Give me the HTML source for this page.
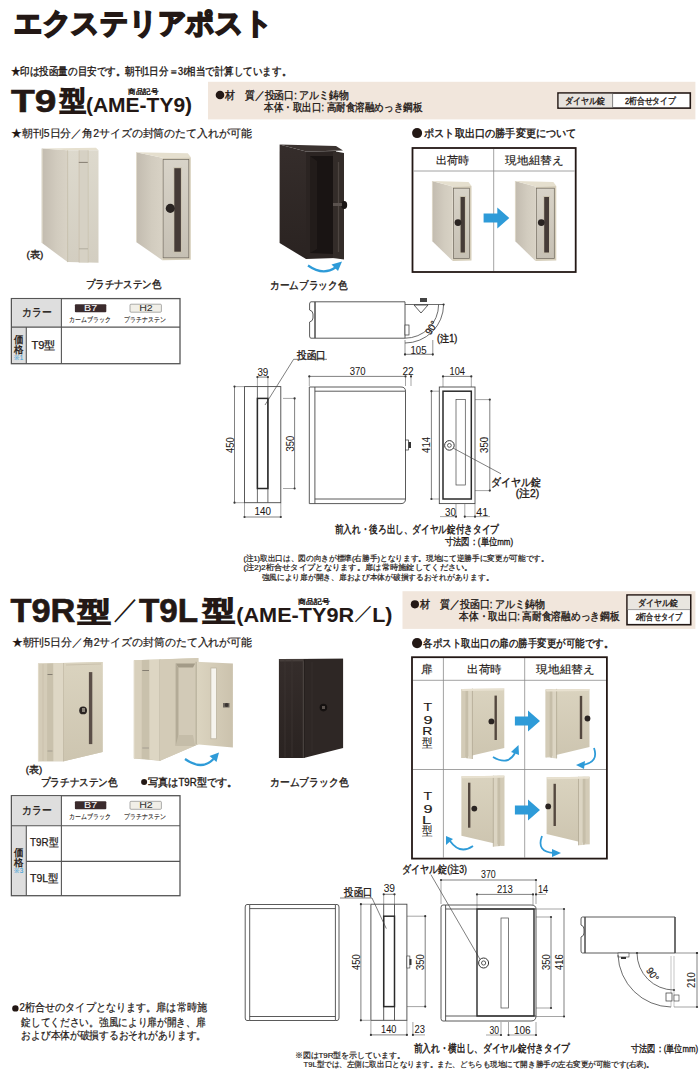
<!DOCTYPE html>
<html><head><meta charset="utf-8"><title>エクステリアポスト</title>
<style>
html,body{margin:0;padding:0;background:#ffffff;}
body{width:700px;height:1076px;overflow:hidden;position:relative;font-family:"Liberation Sans",sans-serif;}
svg{position:absolute;left:0;top:0;}
svg text{font-family:"Liberation Sans",sans-serif;}
</style></head><body>
<svg width="700" height="1076" viewBox="0 0 700 1076" fill="#231815">
<defs>
<linearGradient id="gside" x1="0" y1="0" x2="0" y2="1"><stop offset="0" stop-color="#d5cdb9"/><stop offset="0.5" stop-color="#cdc5b0"/><stop offset="1" stop-color="#c1b8a2"/></linearGradient>
<linearGradient id="gfront" x1="0" y1="0" x2="0" y2="1"><stop offset="0" stop-color="#dad3bf"/><stop offset="1" stop-color="#cdc5b0"/></linearGradient>
<linearGradient id="gdoor" x1="0" y1="0" x2="0" y2="1"><stop offset="0" stop-color="#d8d3c8"/><stop offset="1" stop-color="#c6c0b4"/></linearGradient>
<linearGradient id="gfront2" x1="0" y1="0" x2="1" y2="0"><stop offset="0" stop-color="#dcd5c1"/><stop offset="1" stop-color="#cbc2ad"/></linearGradient>
<linearGradient id="ginside" x1="0" y1="0" x2="1" y2="1"><stop offset="0" stop-color="#b8af99"/><stop offset="1" stop-color="#d0c8b3"/></linearGradient>
<linearGradient id="gblk" x1="0" y1="0" x2="0" y2="1"><stop offset="0" stop-color="#352d2b"/><stop offset="1" stop-color="#2a2321"/></linearGradient>
<linearGradient id="gsideH" x1="0" y1="0" x2="1" y2="0"><stop offset="0" stop-color="#c2bbaf"/><stop offset="0.6" stop-color="#d2ccbf"/><stop offset="1" stop-color="#d8d2c5"/></linearGradient>
<linearGradient id="gfrontN" x1="0" y1="0" x2="0" y2="1"><stop offset="0" stop-color="#ddd9cd"/><stop offset="1" stop-color="#d3cec1"/></linearGradient>
</defs>
<polygon points="41.7,148.5 67.6,150.3 67.6,262.1 41.7,242.8" fill="url(#gsideH)"/>
<polygon points="41.7,148.5 96.0,147.8 98.5,150.3 67.6,150.3" fill="#e6e0cf"/>
<polygon points="67.6,150.3 98.5,150.3 98.5,262.7 67.6,262.1" fill="url(#gfrontN)"/>
<rect x="79.1" y="150.3" width="9.1" height="112.2" fill="#d6d1c4" />
<line x1="67.6" y1="150.3" x2="67.6" y2="262.1" stroke="#bdb49f" stroke-width="0.7"/>
<line x1="42.2" y1="149.0" x2="42.2" y2="243.0" stroke="#e8e2d2" stroke-width="0.8"/>
<line x1="79.1" y1="150.3" x2="79.1" y2="262.5" stroke="#c2b9a4" stroke-width="0.6"/>
<line x1="88.2" y1="150.3" x2="88.2" y2="262.5" stroke="#c6bda8" stroke-width="0.6"/>
<line x1="78.8" y1="162.4" x2="87.8" y2="162.4" stroke="#857e72" stroke-width="1.0"/>
<line x1="79.0" y1="248.8" x2="88.0" y2="248.8" stroke="#aaa396" stroke-width="0.8"/>
<polygon points="136.1,152.2 162.3,157.7 162.3,260.2 136.1,242.0" fill="url(#gsideH)"/>
<line x1="136.5" y1="152.2" x2="136.5" y2="242.0" stroke="#e6e0d0" stroke-width="0.8"/>
<polygon points="136.1,152.2 187.8,153.2 190.8,157.2 162.3,157.7" fill="#e5dfce"/>
<polygon points="162.3,157.7 190.8,157.2 190.8,259.7 162.3,260.2" fill="#d6ceba"/>
<rect x="163.1" y="159.4" width="25.7" height="98.4" fill="url(#gdoor)" stroke="#6f695f" stroke-width="0.7" />
<rect x="173.5" y="167.2" width="8.2" height="85.5" fill="#c9c1ad" />
<rect x="174.3" y="168.2" width="6.6" height="83.5" fill="#453b37" />
<circle cx="170.3" cy="208.4" r="4.5600000000000005" fill="#2a2422"/>
<polygon points="279.6,144.4 306.0,151.5 306.0,259.0 279.6,243.0" fill="url(#gblk)"/>
<polygon points="279.6,144.4 336.0,146.0 343.0,150.5 306.0,151.5" fill="#3b3330"/>
<polygon points="306.0,151.5 336.0,151.0 336.0,258.0 306.0,259.0" fill="#2b2422"/>
<polygon points="310.0,156.0 333.0,156.0 333.0,254.0 310.0,253.0" fill="#191413"/>
<polygon points="310.0,156.0 317.0,161.0 317.0,249.0 310.0,253.0" fill="#221c1a"/>
<polygon points="333.0,151.0 344.0,153.0 344.0,259.5 333.0,258.0" fill="#332c29"/>
<line x1="338.5" y1="162.0" x2="338.5" y2="252.0" stroke="#4d4541" stroke-width="1.3"/>
<ellipse cx="344.2" cy="205" rx="3" ry="4" fill="#1a1514"/>
<rect x="333.0" y="203.0" width="9.0" height="3.0" fill="#5a524e" />
<path d="M308,265.5 Q323,276 335.5,267.5" fill="none" stroke="#2e9bd8" stroke-width="2.2" />
<polygon points="331.5,264.5 342.0,261.5 338.0,271.0" fill="#2e9bd8"/>
<rect x="412.5" y="148.0" width="163.2" height="124.0" fill="#ffffff" stroke="#231815" stroke-width="1.8" />
<line x1="413.5" y1="171.0" x2="574.7" y2="171.0" stroke="#8a8a8a" stroke-width="0.8"/>
<line x1="493.7" y1="149.0" x2="493.7" y2="271.0" stroke="#8a8a8a" stroke-width="0.8"/>
<polygon points="432.0,181.0 452.7,186.5 452.7,261.0 432.0,241.0" fill="url(#gsideH)"/>
<line x1="432.4" y1="181.0" x2="432.4" y2="241.0" stroke="#e6e0d0" stroke-width="0.8"/>
<polygon points="432.0,181.0 468.5,182.0 471.5,186.0 452.7,186.5" fill="#e5dfce"/>
<polygon points="452.7,186.5 471.5,186.0 471.5,260.5 452.7,261.0" fill="#d6ceba"/>
<rect x="453.5" y="188.2" width="16.0" height="70.4" fill="url(#gdoor)" stroke="#6f695f" stroke-width="0.7" />
<rect x="459.8" y="196.0" width="5.9" height="57.5" fill="#c9c1ad" />
<rect x="460.6" y="197.0" width="4.3" height="55.5" fill="#453b37" />
<circle cx="458.0" cy="222.6" r="3.4" fill="#2a2422"/>
<polygon points="515.0,181.0 535.5,186.5 535.5,261.0 515.0,241.0" fill="url(#gsideH)"/>
<line x1="515.4" y1="181.0" x2="515.4" y2="241.0" stroke="#e6e0d0" stroke-width="0.8"/>
<polygon points="515.0,181.0 553.3,182.0 556.3,186.0 535.5,186.5" fill="#e5dfce"/>
<polygon points="535.5,186.5 556.3,186.0 556.3,260.5 535.5,261.0" fill="#d6ceba"/>
<rect x="536.3" y="188.2" width="18.0" height="70.4" fill="url(#gdoor)" stroke="#6f695f" stroke-width="0.7" />
<rect x="543.4" y="196.0" width="6.4" height="57.5" fill="#c9c1ad" />
<rect x="544.2" y="197.0" width="4.8" height="55.5" fill="#453b37" />
<circle cx="541.3" cy="222.6" r="3.4" fill="#2a2422"/>
<polygon points="483.6,213.5 497.3,213.5 497.3,207.5 509.3,218.0 497.3,228.5 497.3,222.5 483.6,222.5" fill="#2e9bd8"/>
<text x="13.75" y="33.30" font-size="29" textLength="259.05" lengthAdjust="spacingAndGlyphs" stroke="#231815" stroke-width="3.0">エクステリアポスト</text>
<text x="10.70" y="75.40" font-size="10.5" textLength="280.44" lengthAdjust="spacingAndGlyphs" stroke="#231815" stroke-width="0.35">★印は投函量の目安です。朝刊1日分＝3ℓ相当で計算しています。</text>
<text x="11.00" y="112.00" font-size="32" textLength="45.42" lengthAdjust="spacingAndGlyphs" stroke="#231815" stroke-width="0.6" font-weight="bold">T9</text>
<text x="59.96" y="110.00" font-size="27" textLength="26.04" lengthAdjust="spacingAndGlyphs" stroke="#231815" stroke-width="2.2">型</text>
<text x="85.95" y="112.00" font-size="20" textLength="106.16" lengthAdjust="spacingAndGlyphs" stroke="#231815" stroke-width="0.05" font-weight="bold">(AME-TY9)</text>
<text x="128.00" y="94.00" font-size="7" textLength="30.00" lengthAdjust="spacingAndGlyphs" stroke="#231815" stroke-width="0.35">商品記号</text>
<rect x="208.0" y="81.8" width="487.4" height="37.6" fill="#f1e6dc" />
<circle cx="220.0" cy="95.0" r="4.3" fill="#231815"/>
<text x="225.00" y="98.50" font-size="10.5" textLength="123.86" lengthAdjust="spacingAndGlyphs" stroke="#231815" stroke-width="0.35">材　質／投函口: アルミ鋳物</text>
<text x="264.30" y="111.40" font-size="10.5" textLength="157.86" lengthAdjust="spacingAndGlyphs" stroke="#231815" stroke-width="0.35">本体・取出口: 高耐食溶融めっき鋼板</text>
<rect x="558.0" y="93.0" width="132.3" height="15.1" fill="#ffffff" stroke="#231815" stroke-width="1.6" />
<rect x="558.8" y="93.8" width="53.7" height="13.5" fill="#e7e3de" />
<line x1="612.6" y1="93.5" x2="612.6" y2="107.6" stroke="#666" stroke-width="0.8"/>
<text x="564.91" y="103.70" font-size="8.5" textLength="39.99" lengthAdjust="spacingAndGlyphs" stroke="#231815" stroke-width="0.35">ダイヤル錠</text>
<text x="624.90" y="103.70" font-size="8.5" textLength="50.90" lengthAdjust="spacingAndGlyphs" stroke="#231815" stroke-width="0.35">2桁合せタイプ</text>
<text x="11.01" y="137.00" font-size="10.5" textLength="240.68" lengthAdjust="spacingAndGlyphs" stroke="#231815" stroke-width="0.2">★朝刊5日分／角2サイズの封筒のたて入れが可能</text>
<circle cx="417.1" cy="133.1" r="5" fill="#231815"/>
<text x="424.00" y="137.20" font-size="10.5" textLength="152.63" lengthAdjust="spacingAndGlyphs" stroke="#231815" stroke-width="0.4">ポスト取出口の勝手変更について</text>
<text x="26.40" y="257.90" font-size="9.5" textLength="16.94" lengthAdjust="spacingAndGlyphs" stroke="#231815" stroke-width="0.35">(表)</text>
<text x="85.60" y="288.00" font-size="10.5" textLength="75.80" lengthAdjust="spacingAndGlyphs" stroke="#231815" stroke-width="0.35">プラチナステン色</text>
<text x="270.12" y="289.30" font-size="10.5" textLength="77.08" lengthAdjust="spacingAndGlyphs" stroke="#231815" stroke-width="0.35">カームブラック色</text>
<text x="436.00" y="163.50" font-size="11" textLength="33.40" lengthAdjust="spacingAndGlyphs" stroke="#231815" stroke-width="0.15">出荷時</text>
<text x="505.40" y="163.50" font-size="11" textLength="58.16" lengthAdjust="spacingAndGlyphs" stroke="#231815" stroke-width="0.15">現地組替え</text>
<rect x="11.4" y="298.6" width="168.6" height="65.1" fill="#ffffff" stroke="#555" stroke-width="1.3" />
<rect x="12.1" y="299.3" width="49.3" height="27.8" fill="#dedede" />
<rect x="12.1" y="327.1" width="14.2" height="35.9" fill="#dedede" />
<line x1="11.4" y1="327.1" x2="180.0" y2="327.1" stroke="#555" stroke-width="1.1"/>
<line x1="61.4" y1="298.6" x2="61.4" y2="363.7" stroke="#555" stroke-width="1.1"/>
<line x1="26.3" y1="327.1" x2="26.3" y2="363.7" stroke="#555" stroke-width="1.1"/>
<text x="22.01" y="316.35" font-size="11" textLength="29.39" lengthAdjust="spacingAndGlyphs" stroke="#231815" stroke-width="0.3">カラー</text>
<rect x="74.9" y="304.2" width="31.4" height="8.0" fill="#3b2b2d" rx="1" />
<text x="84.10" y="311.20" font-size="9" textLength="13.02" lengthAdjust="spacingAndGlyphs" fill="#ffffff" stroke="#ffffff" stroke-width="0.05">B7</text>
<rect x="130.0" y="304.2" width="31.4" height="8.0" fill="#f1efe8" stroke="#777" stroke-width="0.6" rx="1" />
<text x="139.20" y="311.20" font-size="9" textLength="13.61" lengthAdjust="spacingAndGlyphs" fill="#333333" stroke="#333333" stroke-width="0.05">H2</text>
<text x="69.15" y="321.90" font-size="6.5" textLength="41.70" lengthAdjust="spacingAndGlyphs" stroke="#231815" stroke-width="0.1">カームブラック</text>
<text x="124.30" y="321.90" font-size="6.5" textLength="41.40" lengthAdjust="spacingAndGlyphs" stroke="#231815" stroke-width="0.1">プラチナステン</text>
<text x="31.40" y="349.20" font-size="11" textLength="24.14" lengthAdjust="spacingAndGlyphs" stroke="#231815" stroke-width="0.25">T9型</text>
<text x="14.05" y="343.00" font-size="10" textLength="9.50" lengthAdjust="spacingAndGlyphs" stroke="#231815" stroke-width="0.35">価</text>
<text x="14.05" y="352.80" font-size="10" textLength="9.50" lengthAdjust="spacingAndGlyphs" stroke="#231815" stroke-width="0.35">格</text>
<text x="14.30" y="360.00" font-size="7" textLength="8.92" lengthAdjust="spacingAndGlyphs" fill="#3aa0d8" stroke="#3aa0d8" stroke-width="0.1">※1</text>
<path d="M315,301.8 H405 V338.2 H315 Z" fill="none" stroke="#474747" stroke-width="0.9" />
<path d="M315,301.8 H311 Q309.6,302 309.6,304 V310 Q313,311 313,314 V318 Q313,321 309.6,322 V336 Q309.6,338.2 311,338.2 H315" fill="none" stroke="#474747" stroke-width="0.9" />
<line x1="315.0" y1="302.0" x2="315.0" y2="338.0" stroke="#474747" stroke-width="1.0"/>
<line x1="405.0" y1="304.5" x2="443.6" y2="304.5" stroke="#474747" stroke-width="0.8"/>
<rect x="420.0" y="298.0" width="7.0" height="4.0" fill="#444" />
<polygon points="414.0,305.0 428.0,305.0 421.0,313.0" fill="#ffffff" stroke="#333" stroke-width="0.8"/>
<rect x="405.0" y="325.0" width="4.0" height="10.0" fill="#fff" stroke="#333" stroke-width="0.7" />
<path d="M405,338.2 A33.6,33.6 0 0 0 438.6,304.6" fill="none" stroke="#474747" stroke-width="0.8" />
<path d="M405,343 A38.6,38.6 0 0 0 443.6,304.5" fill="none" stroke="#474747" stroke-width="0.8" />
<circle cx="443.6" cy="304.5" r="1.1" fill="#333"/>
<text x="423.70" y="331.50" font-size="10" textLength="14.12" lengthAdjust="spacingAndGlyphs" stroke="#231815" stroke-width="0.2" transform="rotate(-58 430.7 327.5)">90°</text>
<text x="437.10" y="342.10" font-size="10" textLength="20.21" lengthAdjust="spacingAndGlyphs" stroke="#231815" stroke-width="0.35">(注1)</text>
<line x1="405.0" y1="340.0" x2="405.0" y2="356.0" stroke="#4a4a4a" stroke-width="0.6"/>
<line x1="432.8" y1="340.0" x2="432.8" y2="356.0" stroke="#4a4a4a" stroke-width="0.6"/>
<line x1="405.0" y1="354.3" x2="432.8" y2="354.3" stroke="#4a4a4a" stroke-width="0.7"/>
<circle cx="405.0" cy="354.3" r="1.1" fill="#333"/>
<circle cx="432.8" cy="354.3" r="1.1" fill="#333"/>
<text x="410.44" y="354.00" font-size="10" textLength="16.06" lengthAdjust="spacingAndGlyphs" stroke="#231815" stroke-width="0.05">105</text>
<text x="297.00" y="358.50" font-size="10.5" textLength="28.88" lengthAdjust="spacingAndGlyphs" stroke="#231815" stroke-width="0.35">投函口</text>
<line x1="293.6" y1="359.3" x2="327.0" y2="359.3" stroke="#474747" stroke-width="0.7"/>
<line x1="293.6" y1="359.3" x2="265.0" y2="405.0" stroke="#474747" stroke-width="0.7"/>
<rect x="244.5" y="386.6" width="36.3" height="116.1" fill="none" stroke="#474747" stroke-width="0.9" />
<line x1="257.4" y1="386.6" x2="257.4" y2="502.7" stroke="#474747" stroke-width="0.8"/>
<line x1="267.9" y1="386.6" x2="267.9" y2="502.7" stroke="#474747" stroke-width="0.8"/>
<rect x="257.4" y="398.4" width="10.5" height="90.1" fill="none" stroke="#2a2a2a" stroke-width="1.5" />
<line x1="234.5" y1="386.6" x2="234.5" y2="502.7" stroke="#4a4a4a" stroke-width="0.7"/>
<circle cx="234.5" cy="386.6" r="1.1" fill="#333"/>
<circle cx="234.5" cy="502.7" r="1.1" fill="#333"/>
<line x1="234.5" y1="386.6" x2="244.0" y2="386.6" stroke="#4a4a4a" stroke-width="0.5"/>
<line x1="234.5" y1="502.7" x2="244.0" y2="502.7" stroke="#4a4a4a" stroke-width="0.5"/>
<text x="221.70" y="449.00" font-size="10" textLength="15.71" lengthAdjust="spacingAndGlyphs" stroke="#231815" stroke-width="0.05" transform="rotate(-90 229.7 445.0)">450</text>
<line x1="294.6" y1="398.4" x2="294.6" y2="488.5" stroke="#4a4a4a" stroke-width="0.7"/>
<circle cx="294.6" cy="398.4" r="1.1" fill="#333"/>
<circle cx="294.6" cy="488.5" r="1.1" fill="#333"/>
<line x1="283.0" y1="398.4" x2="294.6" y2="398.4" stroke="#4a4a4a" stroke-width="0.5"/>
<line x1="283.0" y1="488.5" x2="294.6" y2="488.5" stroke="#4a4a4a" stroke-width="0.5"/>
<text x="281.60" y="447.50" font-size="10" textLength="15.71" lengthAdjust="spacingAndGlyphs" stroke="#231815" stroke-width="0.05" transform="rotate(-90 289.6 443.5)">350</text>
<line x1="257.4" y1="377.1" x2="267.9" y2="377.1" stroke="#4a4a4a" stroke-width="0.7"/>
<circle cx="257.4" cy="377.1" r="1.1" fill="#333"/>
<circle cx="267.9" cy="377.1" r="1.1" fill="#333"/>
<line x1="257.4" y1="377.0" x2="257.4" y2="386.0" stroke="#4a4a4a" stroke-width="0.5"/>
<line x1="267.9" y1="377.0" x2="267.9" y2="386.0" stroke="#4a4a4a" stroke-width="0.5"/>
<text x="257.40" y="375.50" font-size="10" textLength="10.92" lengthAdjust="spacingAndGlyphs" stroke="#231815" stroke-width="0.05">39</text>
<line x1="244.5" y1="517.0" x2="280.8" y2="517.0" stroke="#4a4a4a" stroke-width="0.7"/>
<circle cx="244.5" cy="517.0" r="1.1" fill="#333"/>
<circle cx="280.8" cy="517.0" r="1.1" fill="#333"/>
<line x1="244.5" y1="503.0" x2="244.5" y2="517.0" stroke="#4a4a4a" stroke-width="0.5"/>
<line x1="280.8" y1="503.0" x2="280.8" y2="517.0" stroke="#4a4a4a" stroke-width="0.5"/>
<text x="254.51" y="515.40" font-size="10" textLength="16.48" lengthAdjust="spacingAndGlyphs" stroke="#231815" stroke-width="0.05">140</text>
<path d="M309.3,387 H401 Q405.5,387 405.5,391.2 V499 Q405.5,503.6 401,503.6 H309.3 Z" fill="none" stroke="#474747" stroke-width="0.9" />
<line x1="314.9" y1="387.0" x2="314.9" y2="503.6" stroke="#474747" stroke-width="0.9"/>
<line x1="314.9" y1="391.2" x2="405.5" y2="391.2" stroke="#474747" stroke-width="0.9"/>
<line x1="314.9" y1="499.0" x2="405.5" y2="499.0" stroke="#474747" stroke-width="0.9"/>
<rect x="405.5" y="440.0" width="3.0" height="10.0" fill="#fff" stroke="#333" stroke-width="0.7" />
<rect x="408.5" y="442.0" width="2.5" height="6.0" fill="#333" />
<line x1="309.3" y1="376.4" x2="405.5" y2="376.4" stroke="#4a4a4a" stroke-width="0.7"/>
<circle cx="309.3" cy="376.4" r="1.1" fill="#333"/>
<circle cx="405.5" cy="376.4" r="1.1" fill="#333"/>
<line x1="309.3" y1="376.4" x2="309.3" y2="386.0" stroke="#4a4a4a" stroke-width="0.5"/>
<line x1="405.5" y1="376.4" x2="405.5" y2="386.0" stroke="#4a4a4a" stroke-width="0.5"/>
<line x1="411.0" y1="376.4" x2="411.0" y2="386.0" stroke="#4a4a4a" stroke-width="0.5"/>
<circle cx="411.0" cy="376.4" r="1.1" fill="#333"/>
<text x="349.80" y="375.30" font-size="10" textLength="15.80" lengthAdjust="spacingAndGlyphs" stroke="#231815" stroke-width="0.05">370</text>
<text x="402.50" y="375.30" font-size="10" textLength="11.23" lengthAdjust="spacingAndGlyphs" stroke="#231815" stroke-width="0.05">22</text>
<rect x="439.3" y="387.0" width="35.7" height="116.6" fill="none" stroke="#474747" stroke-width="0.9" />
<rect x="443.0" y="391.2" width="28.3" height="107.8" fill="none" stroke="#2a2a2a" stroke-width="1.5" />
<rect x="456.0" y="399.6" width="9.3" height="85.4" fill="none" stroke="#474747" stroke-width="0.7" />
<circle cx="449.4" cy="445.4" r="4.8" fill="#fff" stroke="#333" stroke-width="1.0"/>
<circle cx="449.4" cy="445.4" r="1.9" fill="none" stroke="#333" stroke-width="0.8"/>
<line x1="443.0" y1="376.4" x2="471.3" y2="376.4" stroke="#4a4a4a" stroke-width="0.7"/>
<circle cx="443.0" cy="376.4" r="1.1" fill="#333"/>
<circle cx="471.3" cy="376.4" r="1.1" fill="#333"/>
<line x1="443.0" y1="376.4" x2="443.0" y2="387.0" stroke="#4a4a4a" stroke-width="0.5"/>
<line x1="471.3" y1="376.4" x2="471.3" y2="387.0" stroke="#4a4a4a" stroke-width="0.5"/>
<text x="449.57" y="375.30" font-size="10" textLength="15.44" lengthAdjust="spacingAndGlyphs" stroke="#231815" stroke-width="0.05">104</text>
<line x1="431.4" y1="391.2" x2="431.4" y2="499.0" stroke="#4a4a4a" stroke-width="0.7"/>
<circle cx="431.4" cy="391.2" r="1.1" fill="#333"/>
<circle cx="431.4" cy="499.0" r="1.1" fill="#333"/>
<line x1="431.4" y1="391.2" x2="439.0" y2="391.2" stroke="#4a4a4a" stroke-width="0.5"/>
<line x1="431.4" y1="499.0" x2="439.0" y2="499.0" stroke="#4a4a4a" stroke-width="0.5"/>
<text x="417.85" y="448.80" font-size="10" textLength="16.00" lengthAdjust="spacingAndGlyphs" stroke="#231815" stroke-width="0.05" transform="rotate(-90 426.0 444.8)">414</text>
<line x1="489.8" y1="399.6" x2="489.8" y2="490.6" stroke="#4a4a4a" stroke-width="0.7"/>
<circle cx="489.8" cy="399.6" r="1.1" fill="#333"/>
<circle cx="489.8" cy="490.6" r="1.1" fill="#333"/>
<line x1="475.0" y1="399.6" x2="489.8" y2="399.6" stroke="#4a4a4a" stroke-width="0.5"/>
<line x1="475.0" y1="490.6" x2="489.8" y2="490.6" stroke="#4a4a4a" stroke-width="0.5"/>
<text x="476.35" y="448.80" font-size="10" textLength="16.00" lengthAdjust="spacingAndGlyphs" stroke="#231815" stroke-width="0.05" transform="rotate(-90 484.5 444.8)">350</text>
<line x1="453.0" y1="448.0" x2="501.0" y2="473.8" stroke="#474747" stroke-width="0.7"/>
<text x="491.29" y="486.40" font-size="10.5" textLength="50.11" lengthAdjust="spacingAndGlyphs" stroke="#231815" stroke-width="0.35">ダイヤル錠</text>
<text x="515.70" y="497.10" font-size="10.5" textLength="23.45" lengthAdjust="spacingAndGlyphs" stroke="#231815" stroke-width="0.35">(注2)</text>
<line x1="456.0" y1="504.0" x2="456.0" y2="518.0" stroke="#4a4a4a" stroke-width="0.5"/>
<line x1="464.8" y1="504.0" x2="464.8" y2="518.0" stroke="#4a4a4a" stroke-width="0.5"/>
<line x1="475.0" y1="504.0" x2="475.0" y2="518.0" stroke="#4a4a4a" stroke-width="0.5"/>
<circle cx="456.0" cy="516.6" r="1.1" fill="#333"/>
<circle cx="464.8" cy="516.6" r="1.1" fill="#333"/>
<circle cx="475.0" cy="516.6" r="1.1" fill="#333"/>
<line x1="440.0" y1="516.6" x2="456.0" y2="516.6" stroke="#4a4a4a" stroke-width="0.5"/>
<line x1="464.8" y1="516.6" x2="490.0" y2="516.6" stroke="#4a4a4a" stroke-width="0.5"/>
<text x="445.00" y="516.00" font-size="10" textLength="10.82" lengthAdjust="spacingAndGlyphs" stroke="#231815" stroke-width="0.05">30</text>
<text x="476.30" y="516.00" font-size="10" textLength="11.73" lengthAdjust="spacingAndGlyphs" stroke="#231815" stroke-width="0.05">41</text>
<text x="334.70" y="533.30" font-size="10.5" textLength="164.21" lengthAdjust="spacingAndGlyphs" stroke="#231815" stroke-width="0.4">前入れ・後ろ出し、ダイヤル錠付きタイプ</text>
<text x="444.50" y="545.40" font-size="9.5" textLength="68.53" lengthAdjust="spacingAndGlyphs" stroke="#231815" stroke-width="0.35">寸法図：(単位mm)</text>
<text x="243.40" y="561.40" font-size="7.6" textLength="305.22" lengthAdjust="spacingAndGlyphs" stroke="#231815" stroke-width="0.2">(注1)取出口は、図の向きが標準(右勝手)となります。現地にて逆勝手に変更が可能です。</text>
<text x="243.40" y="569.90" font-size="7.6" textLength="229.27" lengthAdjust="spacingAndGlyphs" stroke="#231815" stroke-width="0.2">(注2)2桁合せタイプとなります。扉は常時施錠してください。</text>
<text x="261.60" y="580.10" font-size="7.6" textLength="231.63" lengthAdjust="spacingAndGlyphs" stroke="#231815" stroke-width="0.2">強風により扉が開き、扉および本体が破損するおそれがあります。</text>
<text x="10.40" y="622.40" font-size="32.5" textLength="65.03" lengthAdjust="spacingAndGlyphs" stroke="#231815" stroke-width="0.6" font-weight="bold">T9R</text>
<text x="78.21" y="620.50" font-size="27" textLength="32.79" lengthAdjust="spacingAndGlyphs" stroke="#231815" stroke-width="2.2">型</text>
<text x="112.71" y="618.00" font-size="27" textLength="26.63" lengthAdjust="spacingAndGlyphs">／</text>
<text x="138.90" y="622.40" font-size="32.5" textLength="59.18" lengthAdjust="spacingAndGlyphs" stroke="#231815" stroke-width="0.6" font-weight="bold">T9L</text>
<text x="202.89" y="620.10" font-size="27" textLength="32.01" lengthAdjust="spacingAndGlyphs" stroke="#231815" stroke-width="2.2">型</text>
<text x="236.22" y="621.80" font-size="20" textLength="117.96" lengthAdjust="spacingAndGlyphs" stroke="#231815" stroke-width="0.05" font-weight="bold">(AME-TY9R</text>
<text x="353.95" y="618.50" font-size="19" textLength="20.01" lengthAdjust="spacingAndGlyphs">／</text>
<text x="372.23" y="621.80" font-size="20" textLength="20.22" lengthAdjust="spacingAndGlyphs" stroke="#231815" stroke-width="0.05" font-weight="bold">L)</text>
<text x="298.00" y="603.50" font-size="7" textLength="31.60" lengthAdjust="spacingAndGlyphs" stroke="#231815" stroke-width="0.35">商品記号</text>
<rect x="402.5" y="591.2" width="292.9" height="37.7" fill="#f1e6dc" />
<circle cx="414.9" cy="604.3" r="4.1" fill="#231815"/>
<text x="419.70" y="608.10" font-size="10.5" textLength="125.46" lengthAdjust="spacingAndGlyphs" stroke="#231815" stroke-width="0.35">材　質／投函口: アルミ鋳物</text>
<text x="459.20" y="620.40" font-size="10.5" textLength="160.06" lengthAdjust="spacingAndGlyphs" stroke="#231815" stroke-width="0.35">本体・取出口: 高耐食溶融めっき鋼板</text>
<rect x="627.0" y="595.0" width="63.7" height="29.7" fill="#ffffff" stroke="#231815" stroke-width="1.6" />
<rect x="627.8" y="595.8" width="62.1" height="13.8" fill="#e9e6e0" />
<line x1="627.5" y1="609.6" x2="690.2" y2="609.6" stroke="#888" stroke-width="0.8"/>
<text x="638.41" y="605.90" font-size="8.5" textLength="39.89" lengthAdjust="spacingAndGlyphs" stroke="#231815" stroke-width="0.35">ダイヤル錠</text>
<text x="635.70" y="619.70" font-size="8.5" textLength="46.20" lengthAdjust="spacingAndGlyphs" stroke="#231815" stroke-width="0.35">2桁合せタイプ</text>
<text x="11.61" y="646.00" font-size="10.5" textLength="240.48" lengthAdjust="spacingAndGlyphs" stroke="#231815" stroke-width="0.2">★朝刊5日分／角2サイズの封筒のたて入れが可能</text>
<circle cx="417.1" cy="643.1" r="5.1" fill="#231815"/>
<text x="423.40" y="646.90" font-size="10.5" textLength="189.84" lengthAdjust="spacingAndGlyphs" stroke="#231815" stroke-width="0.4">各ポスト取出口の扉の勝手変更が可能です。</text>
<polygon points="38.0,663.6 102.6,661.9 102.6,752.1 63.7,761.3 38.0,761.3" fill="url(#gfront)"/>
<polygon points="38.0,663.6 47.1,663.4 47.1,761.3 38.0,761.3" fill="#d4ccb8"/>
<line x1="38.4" y1="663.6" x2="38.4" y2="761.0" stroke="#e6e0cf" stroke-width="0.8"/>
<line x1="43.0" y1="664.0" x2="43.0" y2="761.0" stroke="#c4bba6" stroke-width="0.6"/>
<polygon points="47.1,663.4 53.4,663.3 53.4,761.3 47.1,761.3" fill="#c9c1ac"/>
<line x1="47.5" y1="674.5" x2="52.5" y2="674.5" stroke="#7d766b" stroke-width="0.9"/>
<line x1="47.5" y1="751.0" x2="52.5" y2="751.0" stroke="#9d968a" stroke-width="0.8"/>
<polygon points="53.4,663.3 63.7,663.0 63.7,761.3 53.4,761.3" fill="#ded7c5"/>
<line x1="63.7" y1="663.0" x2="63.7" y2="761.3" stroke="#b3aa95" stroke-width="0.8"/>
<polygon points="63.7,663.0 102.6,661.9 102.6,752.1 63.7,761.3" fill="url(#gfront)"/>
<line x1="66.0" y1="665.0" x2="101.0" y2="664.0" stroke="#bfb6a1" stroke-width="0.6"/>
<rect x="88.9" y="672.1" width="3.4" height="72.0" fill="#5b4f48" />
<circle cx="83.1" cy="710.4" r="3.9" fill="#2a2422"/>
<rect x="82.0" y="708.0" width="3.0" height="4.0" fill="#8a847a" />
<text x="25.70" y="773.10" font-size="9.5" textLength="16.53" lengthAdjust="spacingAndGlyphs" stroke="#231815" stroke-width="0.35">(表)</text>
<text x="40.60" y="786.40" font-size="10.5" textLength="77.10" lengthAdjust="spacingAndGlyphs" stroke="#231815" stroke-width="0.35">プラチナステン色</text>
<polygon points="133.9,660.2 198.4,657.9 198.4,744.3 160.0,760.8 133.9,758.4" fill="url(#gfront)"/>
<polygon points="133.9,660.2 141.8,660.0 141.8,758.8 133.9,758.4" fill="#d8d0bc"/>
<line x1="134.3" y1="660.5" x2="134.3" y2="758.0" stroke="#e3ddcc" stroke-width="0.8"/>
<polygon points="141.8,660.0 149.5,659.8 149.5,759.4 141.8,758.8" fill="#c9c1ac"/>
<line x1="142.3" y1="670.5" x2="149.0" y2="670.5" stroke="#7d766b" stroke-width="0.9"/>
<line x1="142.3" y1="748.0" x2="149.0" y2="748.0" stroke="#9d968a" stroke-width="0.8"/>
<polygon points="149.5,659.8 160.0,659.5 160.0,760.8 149.5,759.4" fill="#ddd6c3"/>
<line x1="160.0" y1="659.5" x2="160.0" y2="760.8" stroke="#b3ab98" stroke-width="0.8"/>
<polygon points="160.0,659.5 198.4,657.9 198.4,744.3 160.0,760.8" fill="#d3cbb7"/>
<polygon points="175.6,663.4 195.2,663.4 195.2,745.9 175.6,745.9" fill="#d2cab7"/>
<polygon points="175.6,663.4 195.2,663.4 193.0,667.5 178.5,667.5" fill="#a39b88"/>
<polygon points="175.6,663.4 178.5,667.5 178.5,743.0 175.6,745.9" fill="#b3ab97"/>
<polygon points="178.5,735.0 193.0,735.0 195.2,745.9 175.6,745.9" fill="#c5bda9"/>
<polygon points="196.0,661.8 232.9,663.4 232.9,747.4 196.0,744.3" fill="url(#gfront2)"/>
<line x1="196.2" y1="661.8" x2="196.2" y2="744.3" stroke="#a69e8b" stroke-width="0.8"/>
<rect x="210.9" y="668.0" width="5.5" height="70.8" fill="#f6f4ee" stroke="#b8b09c" stroke-width="0.7" />
<rect x="223.0" y="703.0" width="6.5" height="4.5" fill="#6a645c" />
<circle cx="226.6" cy="705.0" r="1.9" fill="#3a3532"/>
<path d="M185,759 Q202,771 213.5,759" fill="none" stroke="#2e9bd8" stroke-width="2.2" />
<polygon points="209.5,756.0 219.0,752.5 216.5,762.0" fill="#2e9bd8"/>
<circle cx="144.1" cy="782.0" r="3" fill="#231815"/>
<text x="148.00" y="785.50" font-size="10.5" textLength="89.31" lengthAdjust="spacingAndGlyphs" stroke="#231815" stroke-width="0.35">写真はT9R型です。</text>
<polygon points="278.9,659.0 303.7,659.0 303.7,758.0 278.9,758.0" fill="url(#gblk)"/>
<polygon points="278.9,659.0 343.1,658.7 342.0,661.0 280.0,661.5" fill="#463e3b"/>
<line x1="285.0" y1="660.0" x2="285.0" y2="757.0" stroke="#3c3532" stroke-width="0.8"/>
<line x1="292.0" y1="660.0" x2="292.0" y2="757.0" stroke="#3c3532" stroke-width="0.8"/>
<polygon points="303.7,659.0 343.1,658.7 343.1,748.0 303.7,758.0" fill="#2e2725"/>
<line x1="303.2" y1="660.0" x2="303.2" y2="758.0" stroke="#4a423e" stroke-width="0.9"/>
<line x1="304.3" y1="660.0" x2="304.3" y2="758.0" stroke="#1f1a18" stroke-width="0.6"/>
<line x1="312.0" y1="662.0" x2="312.0" y2="752.0" stroke="#3a3230" stroke-width="0.6"/>
<circle cx="323.4" cy="707.6" r="3.8" fill="#151110"/>
<rect x="322.0" y="706.0" width="3.0" height="3.0" fill="#5a524e" />
<text x="270.21" y="785.50" font-size="10.5" textLength="78.09" lengthAdjust="spacingAndGlyphs" stroke="#231815" stroke-width="0.35">カームブラック色</text>
<rect x="412.0" y="657.2" width="194.9" height="201.4" fill="#ffffff" stroke="#231815" stroke-width="1.8" />
<line x1="413.0" y1="680.3" x2="606.0" y2="680.3" stroke="#8a8a8a" stroke-width="0.8"/>
<line x1="413.0" y1="769.5" x2="606.0" y2="769.5" stroke="#8a8a8a" stroke-width="0.8"/>
<line x1="443.4" y1="658.0" x2="443.4" y2="858.0" stroke="#8a8a8a" stroke-width="0.8"/>
<line x1="524.7" y1="658.0" x2="524.7" y2="858.0" stroke="#8a8a8a" stroke-width="0.8"/>
<text x="421.40" y="672.90" font-size="11" textLength="11.50" lengthAdjust="spacingAndGlyphs" stroke="#231815" stroke-width="0.15">扉</text>
<text x="467.10" y="672.90" font-size="11" textLength="34.30" lengthAdjust="spacingAndGlyphs" stroke="#231815" stroke-width="0.15">出荷時</text>
<text x="536.40" y="672.90" font-size="11" textLength="58.26" lengthAdjust="spacingAndGlyphs" stroke="#231815" stroke-width="0.15">現地組替え</text>
<text x="423.45" y="711.15" font-size="11.5" textLength="8.54" lengthAdjust="spacingAndGlyphs" stroke="#231815" stroke-width="0.15">T</text>
<text x="423.45" y="723.65" font-size="11.5" textLength="9.08" lengthAdjust="spacingAndGlyphs" stroke="#231815" stroke-width="0.15">9</text>
<text x="422.24" y="735.35" font-size="11.5" textLength="10.09" lengthAdjust="spacingAndGlyphs" stroke="#231815" stroke-width="0.15">R</text>
<text x="422.45" y="746.80" font-size="11.5" textLength="10.50" lengthAdjust="spacingAndGlyphs" stroke="#231815" stroke-width="0.15">型</text>
<text x="423.45" y="799.70" font-size="11.5" textLength="8.54" lengthAdjust="spacingAndGlyphs" stroke="#231815" stroke-width="0.15">T</text>
<text x="423.45" y="812.60" font-size="11.5" textLength="9.08" lengthAdjust="spacingAndGlyphs" stroke="#231815" stroke-width="0.15">9</text>
<text x="422.03" y="824.00" font-size="11.5" textLength="9.08" lengthAdjust="spacingAndGlyphs" stroke="#231815" stroke-width="0.15">L</text>
<text x="422.45" y="835.40" font-size="11.5" textLength="10.50" lengthAdjust="spacingAndGlyphs" stroke="#231815" stroke-width="0.15">型</text>
<polygon points="461.4,689.1 504.3,688.6 504.3,748.0 461.4,758.0" fill="url(#gfront)"/>
<polygon points="461.4,689.1 465.4,689.1 465.4,758.0 461.4,758.0" fill="#d3cbb7"/>
<polygon points="465.4,689.1 468.4,689.1 468.4,758.5 465.4,758.0" fill="#c6bea9"/>
<polygon points="468.4,689.1 472.4,689.1 472.4,759.0 468.4,758.5" fill="#dcd5c3"/>
<line x1="472.4" y1="688.6" x2="472.4" y2="759.0" stroke="#aca38e" stroke-width="0.7"/>
<polygon points="461.4,689.1 504.3,688.6 503.3,690.6 462.4,691.1" fill="#e8e1d0"/>
<rect x="494.5" y="695.6" width="2.4" height="44.4" fill="#54483f" />
<circle cx="491.4" cy="721.4" r="2.9" fill="#2a2422"/>
<polygon points="545.6,689.4 589.5,688.9 589.5,747.0 545.6,757.4" fill="url(#gfront)"/>
<polygon points="545.6,689.4 549.6,689.4 549.6,757.4 545.6,757.4" fill="#d3cbb7"/>
<polygon points="549.6,689.4 552.6,689.4 552.6,757.9 549.6,757.4" fill="#c6bea9"/>
<polygon points="552.6,689.4 556.6,689.4 556.6,758.4 552.6,757.9" fill="#dcd5c3"/>
<line x1="556.6" y1="688.9" x2="556.6" y2="758.4" stroke="#aca38e" stroke-width="0.7"/>
<polygon points="545.6,689.4 589.5,688.9 588.5,690.9 546.6,691.4" fill="#e8e1d0"/>
<rect x="579.8" y="695.9" width="2.4" height="43.1" fill="#54483f" />
<circle cx="587.5" cy="718.5" r="2.9" fill="#2a2422"/>
<polygon points="461.4,776.2 504.3,775.7 504.3,845.7 461.4,835.7" fill="url(#gfront)"/>
<polygon points="500.3,775.7 504.3,775.7 504.3,845.7 500.3,846.0" fill="#d3cbb7"/>
<polygon points="497.3,775.7 500.3,775.7 500.3,846.0 497.3,846.3" fill="#c6bea9"/>
<polygon points="493.3,775.7 497.3,775.7 497.3,846.3 493.3,846.7" fill="#dcd5c3"/>
<line x1="493.3" y1="775.7" x2="493.3" y2="846.7" stroke="#aca38e" stroke-width="0.7"/>
<polygon points="461.4,776.2 504.3,775.7 503.3,777.7 462.4,778.2" fill="#e8e1d0"/>
<rect x="468.0" y="782.7" width="2.4" height="45.0" fill="#54483f" />
<circle cx="474.3" cy="808.6" r="2.9" fill="#2a2422"/>
<polygon points="546.6,777.3 589.5,776.8 589.5,844.3 546.6,834.0" fill="url(#gfront)"/>
<polygon points="585.5,776.8 589.5,776.8 589.5,844.3 585.5,844.6" fill="#d3cbb7"/>
<polygon points="582.5,776.8 585.5,776.8 585.5,844.6 582.5,844.9" fill="#c6bea9"/>
<polygon points="578.5,776.8 582.5,776.8 582.5,844.9 578.5,845.3" fill="#dcd5c3"/>
<line x1="578.5" y1="776.8" x2="578.5" y2="845.3" stroke="#aca38e" stroke-width="0.7"/>
<polygon points="546.6,777.3 589.5,776.8 588.5,778.8 547.6,779.3" fill="#e8e1d0"/>
<rect x="553.5" y="783.8" width="2.4" height="42.2" fill="#54483f" />
<circle cx="548.2" cy="806.4" r="2.9" fill="#2a2422"/>
<polygon points="514.9,716.4 528.0,716.4 528.0,710.4 540.0,720.9 528.0,731.4 528.0,725.4 514.9,725.4" fill="#2e9bd8"/>
<polygon points="514.9,805.5 528.0,805.5 528.0,799.5 540.0,810.0 528.0,820.5 528.0,814.5 514.9,814.5" fill="#2e9bd8"/>
<path d="M493,757 Q508,766 515,753" fill="none" stroke="#2e9bd8" stroke-width="1.8" />
<polygon points="511.0,752.0 518.5,745.0 519.0,755.0" fill="#2e9bd8"/>
<path d="M594,748 Q599,762 583,765" fill="none" stroke="#2e9bd8" stroke-width="1.8" />
<polygon points="585.0,761.0 576.0,765.0 584.0,769.0" fill="#2e9bd8"/>
<path d="M473,846 Q460,855 450,841" fill="none" stroke="#2e9bd8" stroke-width="1.8" />
<polygon points="446.0,845.0 446.0,836.0 453.0,839.0" fill="#2e9bd8"/>
<path d="M542,836 Q536,852 554,853" fill="none" stroke="#2e9bd8" stroke-width="1.8" />
<polygon points="552.0,849.0 561.0,853.0 552.0,857.0" fill="#2e9bd8"/>
<rect x="11.4" y="795.7" width="168.6" height="100.0" fill="#ffffff" stroke="#555" stroke-width="1.3" />
<rect x="12.1" y="796.4" width="49.3" height="29.3" fill="#dedede" />
<rect x="12.1" y="825.7" width="14.2" height="69.3" fill="#dedede" />
<line x1="11.4" y1="825.7" x2="180.0" y2="825.7" stroke="#555" stroke-width="1.1"/>
<line x1="61.4" y1="795.7" x2="61.4" y2="895.7" stroke="#555" stroke-width="1.1"/>
<line x1="26.3" y1="825.7" x2="26.3" y2="895.7" stroke="#555" stroke-width="1.1"/>
<text x="22.01" y="814.20" font-size="11" textLength="29.39" lengthAdjust="spacingAndGlyphs" stroke="#231815" stroke-width="0.3">カラー</text>
<rect x="74.9" y="801.3" width="31.4" height="8.0" fill="#3b2b2d" rx="1" />
<text x="84.10" y="808.30" font-size="9" textLength="13.02" lengthAdjust="spacingAndGlyphs" fill="#ffffff" stroke="#ffffff" stroke-width="0.05">B7</text>
<rect x="130.0" y="801.3" width="31.4" height="8.0" fill="#f1efe8" stroke="#777" stroke-width="0.6" rx="1" />
<text x="139.20" y="808.30" font-size="9" textLength="13.61" lengthAdjust="spacingAndGlyphs" fill="#333333" stroke="#333333" stroke-width="0.05">H2</text>
<text x="69.15" y="819.00" font-size="6.5" textLength="41.70" lengthAdjust="spacingAndGlyphs" stroke="#231815" stroke-width="0.1">カームブラック</text>
<text x="124.30" y="819.00" font-size="6.5" textLength="41.40" lengthAdjust="spacingAndGlyphs" stroke="#231815" stroke-width="0.1">プラチナステン</text>
<line x1="26.3" y1="861.4" x2="180.0" y2="861.4" stroke="#555" stroke-width="1.1"/>
<text x="30.00" y="846.40" font-size="11" textLength="28.40" lengthAdjust="spacingAndGlyphs" stroke="#231815" stroke-width="0.25">T9R型</text>
<text x="30.00" y="882.10" font-size="11" textLength="28.57" lengthAdjust="spacingAndGlyphs" stroke="#231815" stroke-width="0.25">T9L型</text>
<text x="14.05" y="856.00" font-size="10" textLength="9.50" lengthAdjust="spacingAndGlyphs" stroke="#231815" stroke-width="0.35">価</text>
<text x="14.05" y="865.50" font-size="10" textLength="9.50" lengthAdjust="spacingAndGlyphs" stroke="#231815" stroke-width="0.35">格</text>
<text x="14.30" y="873.00" font-size="7" textLength="8.92" lengthAdjust="spacingAndGlyphs" fill="#3aa0d8" stroke="#3aa0d8" stroke-width="0.1">※3</text>
<path d="M249.7,904.5 H335.4 M249.7,908.6 H335.4 M249.7,1016.5 H335.4 M249.7,1020.5 H335.4" fill="none" stroke="#474747" stroke-width="0.9" />
<path d="M249.7,904.5 H247 Q245.2,904.5 245.2,907 V1018 Q245.2,1020.5 247,1020.5 H249.7 V904.5" fill="none" stroke="#474747" stroke-width="0.9" />
<path d="M335.4,904.5 H337 Q339,904.5 339,907 V1018 Q339,1020.5 337,1020.5 H335.4 V904.5" fill="none" stroke="#474747" stroke-width="0.9" />
<rect x="370.9" y="904.2" width="36.0" height="116.1" fill="none" stroke="#474747" stroke-width="0.9" />
<line x1="383.7" y1="904.2" x2="383.7" y2="1020.3" stroke="#474747" stroke-width="0.9"/>
<line x1="394.5" y1="904.2" x2="394.5" y2="1020.3" stroke="#474747" stroke-width="0.9"/>
<rect x="383.7" y="916.2" width="10.8" height="90.4" fill="none" stroke="#2a2a2a" stroke-width="1.5" />
<rect x="406.9" y="956.0" width="3.0" height="12.0" fill="#fff" stroke="#333" stroke-width="0.6" />
<rect x="409.5" y="959.0" width="2.0" height="6.0" fill="#333" />
<line x1="360.9" y1="904.2" x2="360.9" y2="1020.3" stroke="#4a4a4a" stroke-width="0.7"/>
<circle cx="360.9" cy="904.2" r="1.1" fill="#333"/>
<circle cx="360.9" cy="1020.3" r="1.1" fill="#333"/>
<line x1="360.9" y1="904.2" x2="370.0" y2="904.2" stroke="#4a4a4a" stroke-width="0.5"/>
<line x1="360.9" y1="1020.3" x2="370.0" y2="1020.3" stroke="#4a4a4a" stroke-width="0.5"/>
<text x="348.30" y="966.00" font-size="10" textLength="15.71" lengthAdjust="spacingAndGlyphs" stroke="#231815" stroke-width="0.05" transform="rotate(-90 356.3 962.0)">450</text>
<line x1="425.2" y1="916.2" x2="425.2" y2="1006.6" stroke="#4a4a4a" stroke-width="0.7"/>
<circle cx="425.2" cy="916.2" r="1.1" fill="#333"/>
<circle cx="425.2" cy="1006.6" r="1.1" fill="#333"/>
<line x1="407.0" y1="916.2" x2="425.2" y2="916.2" stroke="#4a4a4a" stroke-width="0.5"/>
<line x1="407.0" y1="1006.6" x2="425.2" y2="1006.6" stroke="#4a4a4a" stroke-width="0.5"/>
<text x="411.70" y="966.00" font-size="10" textLength="15.71" lengthAdjust="spacingAndGlyphs" stroke="#231815" stroke-width="0.05" transform="rotate(-90 419.7 962.0)">350</text>
<line x1="383.7" y1="894.3" x2="394.5" y2="894.3" stroke="#4a4a4a" stroke-width="0.7"/>
<circle cx="383.7" cy="894.3" r="1.1" fill="#333"/>
<circle cx="394.5" cy="894.3" r="1.1" fill="#333"/>
<line x1="383.7" y1="894.3" x2="383.7" y2="904.0" stroke="#4a4a4a" stroke-width="0.5"/>
<line x1="394.5" y1="894.3" x2="394.5" y2="904.0" stroke="#4a4a4a" stroke-width="0.5"/>
<text x="383.70" y="892.30" font-size="10" textLength="11.33" lengthAdjust="spacingAndGlyphs" stroke="#231815" stroke-width="0.05">39</text>
<text x="344.30" y="896.10" font-size="10.5" textLength="28.26" lengthAdjust="spacingAndGlyphs" stroke="#231815" stroke-width="0.35">投函口</text>
<line x1="340.0" y1="898.0" x2="372.0" y2="898.0" stroke="#474747" stroke-width="0.7"/>
<line x1="372.0" y1="898.0" x2="386.3" y2="928.6" stroke="#474747" stroke-width="0.7"/>
<line x1="370.9" y1="1034.9" x2="406.9" y2="1034.9" stroke="#4a4a4a" stroke-width="0.7"/>
<circle cx="370.9" cy="1034.9" r="1.1" fill="#333"/>
<circle cx="406.9" cy="1034.9" r="1.1" fill="#333"/>
<line x1="370.9" y1="1020.3" x2="370.9" y2="1035.0" stroke="#4a4a4a" stroke-width="0.5"/>
<line x1="406.9" y1="1020.3" x2="406.9" y2="1035.0" stroke="#4a4a4a" stroke-width="0.5"/>
<line x1="412.9" y1="1022.0" x2="412.9" y2="1035.0" stroke="#4a4a4a" stroke-width="0.5"/>
<circle cx="412.9" cy="1034.9" r="1.1" fill="#333"/>
<line x1="412.9" y1="1034.9" x2="425.0" y2="1034.9" stroke="#4a4a4a" stroke-width="0.5"/>
<text x="381.09" y="1033.40" font-size="10" textLength="15.23" lengthAdjust="spacingAndGlyphs" stroke="#231815" stroke-width="0.05">140</text>
<text x="414.60" y="1033.40" font-size="10" textLength="10.42" lengthAdjust="spacingAndGlyphs" stroke="#231815" stroke-width="0.05">23</text>
<text x="401.77" y="872.90" font-size="10.5" textLength="65.10" lengthAdjust="spacingAndGlyphs" stroke="#231815" stroke-width="0.35">ダイヤル錠(注3)</text>
<line x1="430.9" y1="874.6" x2="481.0" y2="961.0" stroke="#474747" stroke-width="0.7"/>
<path d="M445.6,905 H531 Q536,905 536,909 V1016 Q536,1021 531,1021 H445.6" fill="none" stroke="#474747" stroke-width="0.9" />
<path d="M445.6,905 H443 Q441,905 441,907.5 V1018.5 Q441,1021 443,1021 H445.6 Z" fill="none" stroke="#474747" stroke-width="0.9" />
<line x1="445.6" y1="909.0" x2="536.0" y2="909.0" stroke="#474747" stroke-width="0.9"/>
<line x1="445.6" y1="1016.0" x2="536.0" y2="1016.0" stroke="#474747" stroke-width="0.9"/>
<rect x="477.0" y="909.0" width="57.0" height="107.0" fill="none" stroke="#2a2a2a" stroke-width="1.4" />
<rect x="501.0" y="918.0" width="7.4" height="90.0" fill="none" stroke="#474747" stroke-width="0.7" />
<circle cx="483.6" cy="963.0" r="5" fill="#fff" stroke="#333" stroke-width="1.0"/>
<circle cx="483.6" cy="963.0" r="2.1" fill="none" stroke="#333" stroke-width="0.8"/>
<line x1="441.0" y1="880.0" x2="536.0" y2="880.0" stroke="#4a4a4a" stroke-width="0.7"/>
<circle cx="441.0" cy="880.0" r="1.1" fill="#333"/>
<circle cx="536.0" cy="880.0" r="1.1" fill="#333"/>
<line x1="441.0" y1="880.0" x2="441.0" y2="904.0" stroke="#4a4a4a" stroke-width="0.5"/>
<line x1="536.0" y1="880.0" x2="536.0" y2="904.0" stroke="#4a4a4a" stroke-width="0.5"/>
<text x="481.00" y="878.00" font-size="10" textLength="14.72" lengthAdjust="spacingAndGlyphs" stroke="#231815" stroke-width="0.05">370</text>
<line x1="477.0" y1="894.4" x2="533.0" y2="894.4" stroke="#4a4a4a" stroke-width="0.7"/>
<circle cx="477.0" cy="894.4" r="1.1" fill="#333"/>
<circle cx="533.0" cy="894.4" r="1.1" fill="#333"/>
<line x1="477.0" y1="894.4" x2="477.0" y2="909.0" stroke="#4a4a4a" stroke-width="0.5"/>
<line x1="533.0" y1="894.4" x2="533.0" y2="905.0" stroke="#4a4a4a" stroke-width="0.5"/>
<line x1="536.0" y1="894.4" x2="546.0" y2="894.4" stroke="#4a4a4a" stroke-width="0.5"/>
<circle cx="536.0" cy="894.4" r="1.1" fill="#333"/>
<text x="497.00" y="893.00" font-size="10" textLength="15.71" lengthAdjust="spacingAndGlyphs" stroke="#231815" stroke-width="0.05">213</text>
<text x="538.10" y="893.00" font-size="10" textLength="10.01" lengthAdjust="spacingAndGlyphs" stroke="#231815" stroke-width="0.05">14</text>
<line x1="551.0" y1="917.0" x2="551.0" y2="1008.0" stroke="#4a4a4a" stroke-width="0.7"/>
<circle cx="551.0" cy="917.0" r="1.1" fill="#333"/>
<circle cx="551.0" cy="1008.0" r="1.1" fill="#333"/>
<line x1="536.0" y1="917.0" x2="551.0" y2="917.0" stroke="#4a4a4a" stroke-width="0.5"/>
<line x1="536.0" y1="1008.0" x2="551.0" y2="1008.0" stroke="#4a4a4a" stroke-width="0.5"/>
<text x="537.50" y="966.00" font-size="10" textLength="15.71" lengthAdjust="spacingAndGlyphs" stroke="#231815" stroke-width="0.05" transform="rotate(-90 545.5 962.0)">350</text>
<line x1="564.0" y1="909.0" x2="564.0" y2="1016.5" stroke="#4a4a4a" stroke-width="0.7"/>
<circle cx="564.0" cy="909.0" r="1.1" fill="#333"/>
<circle cx="564.0" cy="1016.5" r="1.1" fill="#333"/>
<line x1="536.0" y1="909.0" x2="564.0" y2="909.0" stroke="#4a4a4a" stroke-width="0.5"/>
<line x1="536.0" y1="1016.5" x2="564.0" y2="1016.5" stroke="#4a4a4a" stroke-width="0.5"/>
<text x="551.00" y="966.00" font-size="10" textLength="15.71" lengthAdjust="spacingAndGlyphs" stroke="#231815" stroke-width="0.05" transform="rotate(-90 559.0 962.0)">416</text>
<line x1="501.0" y1="1022.0" x2="501.0" y2="1036.0" stroke="#4a4a4a" stroke-width="0.5"/>
<line x1="508.5" y1="1022.0" x2="508.5" y2="1036.0" stroke="#4a4a4a" stroke-width="0.5"/>
<line x1="536.0" y1="1022.0" x2="536.0" y2="1036.0" stroke="#4a4a4a" stroke-width="0.5"/>
<circle cx="501.0" cy="1035.0" r="1.1" fill="#333"/>
<circle cx="508.5" cy="1035.0" r="1.1" fill="#333"/>
<circle cx="536.0" cy="1035.0" r="1.1" fill="#333"/>
<line x1="486.0" y1="1035.0" x2="501.0" y2="1035.0" stroke="#4a4a4a" stroke-width="0.5"/>
<line x1="508.5" y1="1035.0" x2="536.0" y2="1035.0" stroke="#4a4a4a" stroke-width="0.5"/>
<text x="489.60" y="1034.00" font-size="10" textLength="9.51" lengthAdjust="spacingAndGlyphs" stroke="#231815" stroke-width="0.05">30</text>
<text x="514.00" y="1034.00" font-size="10" textLength="16.69" lengthAdjust="spacingAndGlyphs" stroke="#231815" stroke-width="0.05">106</text>
<path d="M585,917 H675 V953 H585 Z" fill="none" stroke="#474747" stroke-width="0.9" />
<path d="M585,917 H582.5 Q581,917 581,919 V925 Q584,926 584,929 V933 Q584,936 581,937 V951 Q581,953 582.5,953 H585" fill="none" stroke="#474747" stroke-width="0.9" />
<line x1="585.0" y1="917.0" x2="585.0" y2="953.0" stroke="#474747" stroke-width="1.0"/>
<line x1="675.0" y1="917.0" x2="675.0" y2="953.0" stroke="#474747" stroke-width="1.2"/>
<line x1="675.0" y1="953.0" x2="697.0" y2="953.0" stroke="#4a4a4a" stroke-width="0.6"/>
<circle cx="697.0" cy="953.0" r="1.1" fill="#333"/>
<circle cx="637.0" cy="953.0" r="1.1" fill="#333"/>
<rect x="618.0" y="953.0" width="11.0" height="4.0" fill="#fff" stroke="#333" stroke-width="0.6" />
<rect x="621.0" y="957.0" width="5.0" height="2.0" fill="#333" />
<path d="M637,953 A37,37 0 0 0 674,990" fill="none" stroke="#474747" stroke-width="0.8" />
<circle cx="674.0" cy="990.0" r="1.1" fill="#333"/>
<path d="M618,955 A54,54 0 0 0 671,1007" fill="none" stroke="#474747" stroke-width="0.8" />
<line x1="671.0" y1="956.0" x2="671.0" y2="1007.0" stroke="#888" stroke-width="0.5"/>
<line x1="674.0" y1="956.0" x2="674.0" y2="1007.0" stroke="#888" stroke-width="0.5"/>
<rect x="666.0" y="993.0" width="6.0" height="8.0" fill="#fff" stroke="#333" stroke-width="0.7" />
<rect x="674.0" y="995.0" width="5.0" height="6.0" fill="#fff" stroke="#333" stroke-width="0.6" />
<line x1="697.0" y1="953.0" x2="697.0" y2="1007.0" stroke="#4a4a4a" stroke-width="0.7"/>
<circle cx="697.0" cy="953.0" r="1.1" fill="#333"/>
<circle cx="697.0" cy="1007.0" r="1.1" fill="#333"/>
<line x1="674.0" y1="1007.0" x2="697.0" y2="1007.0" stroke="#4a4a4a" stroke-width="0.5"/>
<text x="646.00" y="978.00" font-size="10" textLength="14.12" lengthAdjust="spacingAndGlyphs" stroke="#231815" stroke-width="0.2" transform="rotate(55 653.0 974.0)">90°</text>
<text x="683.00" y="984.00" font-size="10" textLength="15.71" lengthAdjust="spacingAndGlyphs" stroke="#231815" stroke-width="0.05" transform="rotate(-90 691.0 980.0)">210</text>
<text x="413.60" y="1051.60" font-size="10.5" textLength="156.41" lengthAdjust="spacingAndGlyphs" stroke="#231815" stroke-width="0.4">前入れ・横出し、ダイヤル錠付きタイプ</text>
<text x="631.00" y="1051.50" font-size="9.5" textLength="67.13" lengthAdjust="spacingAndGlyphs" stroke="#231815" stroke-width="0.35">寸法図：(単位mm)</text>
<text x="294.71" y="1057.90" font-size="8" textLength="109.86" lengthAdjust="spacingAndGlyphs" stroke="#231815" stroke-width="0.2">※図はT9R型を示しています。</text>
<text x="303.60" y="1067.40" font-size="8" textLength="350.24" lengthAdjust="spacingAndGlyphs" stroke="#231815" stroke-width="0.2">T9L型では、左側に取出口となります。また、どちらも現地にて開き勝手の左右変更が可能です(右表)。</text>
<circle cx="15.4" cy="1008.4" r="3.2" fill="#231815"/>
<text x="19.60" y="1011.40" font-size="10.5" textLength="187.26" lengthAdjust="spacingAndGlyphs" stroke="#231815" stroke-width="0.2">2桁合せのタイプとなります。扉は常時施</text>
<text x="21.40" y="1025.50" font-size="10.5" textLength="184.00" lengthAdjust="spacingAndGlyphs" stroke="#231815" stroke-width="0.2">錠してください。強風により扉が開き、扉</text>
<text x="21.40" y="1038.90" font-size="10.5" textLength="184.79" lengthAdjust="spacingAndGlyphs" stroke="#231815" stroke-width="0.2">および本体が破損するおそれがあります。</text>
</svg>
</body></html>
